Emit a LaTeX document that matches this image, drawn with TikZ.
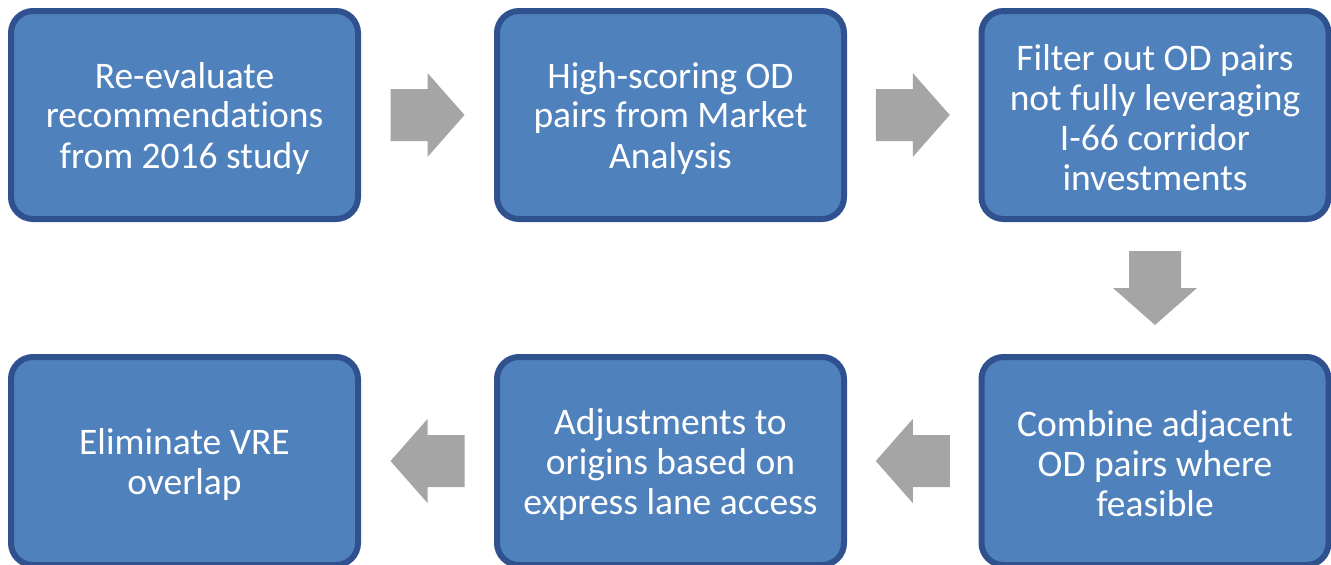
\documentclass[tikz,border=0pt]{standalone}
\usepackage{fontspec}
\setmainfont{Carlito}[Ligatures=NoCommon]
\usetikzlibrary{calc}
\definecolor{boxfill}{HTML}{4F81BD}
\definecolor{boxline}{HTML}{2F528F}
\definecolor{arrowgray}{HTML}{A5A5A5}
\begin{document}
\begin{tikzpicture}[x=1pt,y=-1pt,
  stepbox/.style={draw=boxline, fill=boxfill, line width=6pt, rounded corners=22pt,
    minimum width=347pt, minimum height=208pt, inner sep=0pt},
  steptext/.style={text=white, align=center, inner sep=0pt, yshift=-3pt,
    font=\fontsize{37.5}{40}\selectfont},
  blockarrow/.style={fill=arrowgray}]
\useasboundingbox (0,0) rectangle (1331,565);
\node[stepbox] (b1) at (184.5,115) {};
\node[stepbox] (b2) at (670.5,115) {};
\node[stepbox] (b3) at (1155,115) {};
\node[stepbox] (b4) at (1155,461) {};
\node[stepbox] (b5) at (670.5,461) {};
\node[stepbox] (b6) at (184.5,461) {};
\node[steptext] (t1) at (b1) {Re-evaluate\\recommendations\\from 2016 study};
\node[steptext] (t2) at (b2) {High-scoring OD\\pairs from Market\\Analysis};
\node[steptext] (t3) at (b3) {Filter out OD pairs\\not fully leveraging\\I-66 corridor\\investments};
\node[steptext] (t4) at (b4) {Combine adjacent\\OD pairs where\\feasible};
\node[steptext] (t5) at (b5) {Adjustments to\\origins based on\\express lane access};
\node[steptext] (t6) at (b6) {Eliminate VRE\\overlap};
\coordinate (a12) at ($(b1.east)!0.5!(b2.west)$);
\coordinate (a23) at ($(b2.east)!0.5!(b3.west)$);
\coordinate (a34) at ($(b3.south)!0.5!(b4.north)$);
\coordinate (a45) at ($(b4.west)!0.5!(b5.east)$);
\coordinate (a56) at ($(b5.west)!0.5!(b6.east)$);
\foreach \c in {a12,a23}{
  \fill[blockarrow] ($(\c)+(-37,-26)$) -- ($(\c)+(0,-26)$) -- ($(\c)+(0,-42)$) -- ($(\c)+(37,0)$)
    -- ($(\c)+(0,42)$) -- ($(\c)+(0,26)$) -- ($(\c)+(-37,26)$) -- cycle;
}
\foreach \c in {a45,a56}{
  \fill[blockarrow] ($(\c)+(37,-26)$) -- ($(\c)+(0,-26)$) -- ($(\c)+(0,-42)$) -- ($(\c)+(-37,0)$)
    -- ($(\c)+(0,42)$) -- ($(\c)+(0,26)$) -- ($(\c)+(37,26)$) -- cycle;
}
\fill[blockarrow] ($(a34)+(-26,-37)$) -- ($(a34)+(26,-37)$) -- ($(a34)+(26,0)$) -- ($(a34)+(42,0)$)
  -- ($(a34)+(0,37)$) -- ($(a34)+(-42,0)$) -- ($(a34)+(-26,0)$) -- cycle;
\end{tikzpicture}
\end{document}
